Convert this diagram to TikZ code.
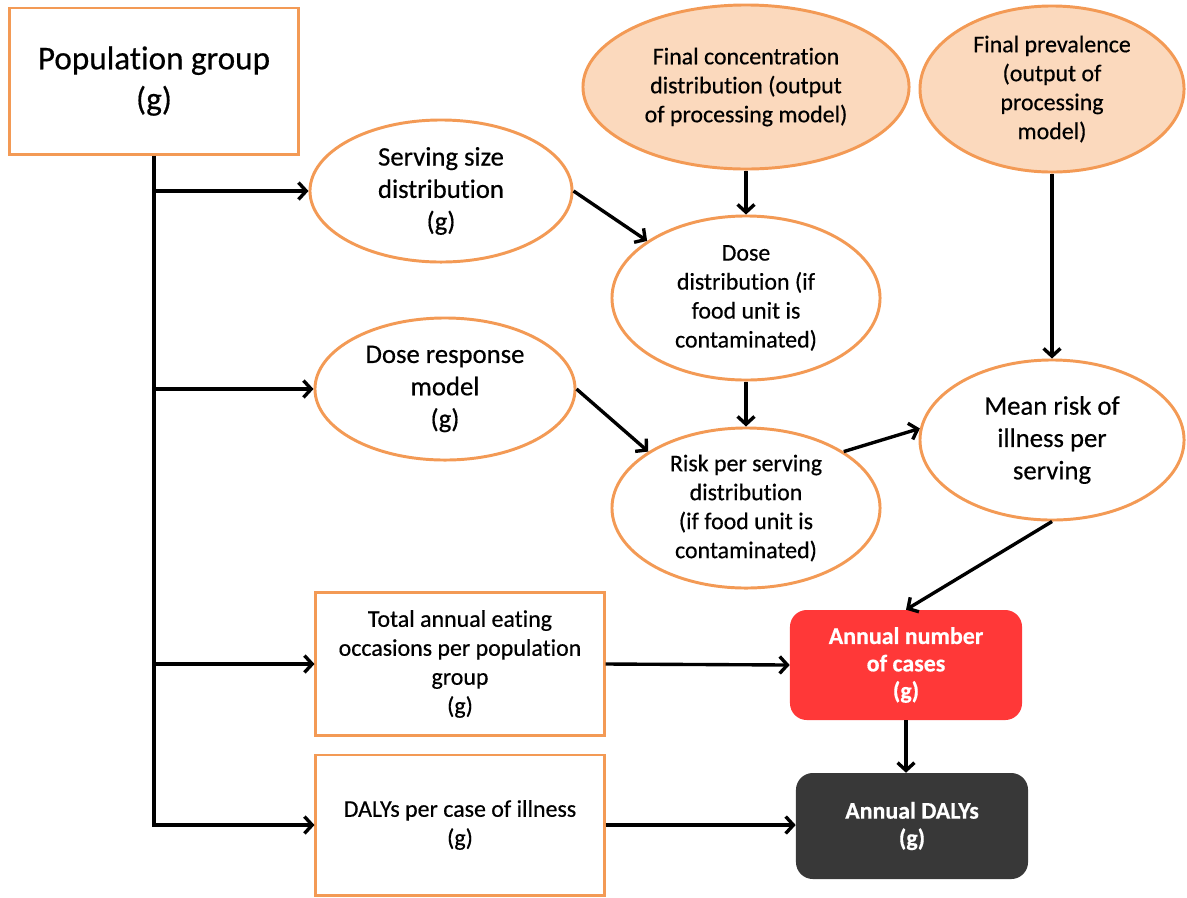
\documentclass[tikz,border=0pt]{standalone}
\usepackage{fontspec}
\setmainfont{Carlito}[Ligatures=NoCommon, FakeBold=0.5]
\usepackage{xcolor}
\usepackage{tikz}
\usetikzlibrary{shapes.geometric, arrows.meta, positioning}

\definecolor{edgeorange}{HTML}{F39A55}
\definecolor{peach}{HTML}{FBD9BD}
\definecolor{casered}{HTML}{FF3838}
\definecolor{dalygrey}{HTML}{383838}

\begin{document}
\begin{tikzpicture}[x=0.025cm, y=-0.025cm]
        \tikzstyle{box} = [rectangle, draw=edgeorange, line width=2.1pt, fill=white, align=center, inner sep=0pt, font=\fontsize{17}{20.6}\selectfont]
        \tikzstyle{blob} = [ellipse, draw=edgeorange, line width=2.1pt, fill=white, align=center, inner sep=0pt, font=\fontsize{17}{20.6}\selectfont]
        \tikzstyle{result} = [rectangle, rounded corners=12pt, draw=none, text=white, align=center, inner sep=0pt, font=\bfseries\fontsize{17}{19.5}\selectfont]
        \tikzstyle{line} = [draw, line width=2.4pt, -{Straight Barb[length=5.5pt, width=12pt, line width=2.4pt]}]

        \useasboundingbox (0,0) rectangle (1187,897);

        % inputs on the left
        \node [box, minimum width=7.2cm, minimum height=3.65cm, font=\fontsize{23.6}{29}\selectfont] (pop) at (154,81) {Population group\\(g)};
        \node [blob, minimum width=6.55cm, minimum height=3.55cm, font=\fontsize{19}{23}\selectfont] (serving) at (441,191) {Serving size\\distribution\\(g)};
        \node [blob, minimum width=6.5cm, minimum height=3.55cm, font=\fontsize{19}{23}\selectfont] (doseresp) at (445,389) {Dose response\\model\\(g)};
        \node [box, minimum width=7.2cm, minimum height=3.575cm] (occasions) at (460,664) {Total annual eating\\occasions per population\\group\\(g)};
        \node [box, minimum width=7.2cm, minimum height=3.5cm] (dalys) at (460,825) {DALYs per case of illness\\(g)};

        % processing model outputs
        \node [blob, fill=peach, minimum width=8.15cm, minimum height=4.1cm] (conc) at (746,87) {Final concentration\\distribution (output\\of processing model)};
        \node [blob, fill=peach, minimum width=6.6cm, minimum height=4.15cm] (prev) at (1052,89) {Final prevalence\\(output of\\processing\\model)};

        % intermediate distributions
        \node [blob, minimum width=6.7cm, minimum height=4.1cm] (dose) at (746,298) {Dose\\distribution (if\\food unit is\\contaminated)};
        \node [blob, minimum width=6.7cm, minimum height=4.0cm] (risk) at (746,508) {Risk per serving\\distribution\\(if food unit is\\contaminated)};
        \node [blob, minimum width=6.6cm, minimum height=4.0cm, font=\fontsize{19}{23}\selectfont] (meanrisk) at (1052,440) {Mean risk of\\illness per\\serving};

        % results
        \node [result, fill=casered, minimum width=5.8cm, minimum height=2.75cm] (cases) at (906,665) {Annual number\\of cases\\(g)};
        \node [result, fill=dalygrey, minimum width=5.8cm, minimum height=2.65cm] (annualdalys) at (912,826) {Annual DALYs\\(g)};

        \path [line] (pop.south) |- (dalys.west);
        \path [line] (pop.south |- serving.west) -- (serving.west);
        \path [line] (pop.south |- doseresp.west) -- (doseresp.west);
        \path [line] (pop.south |- occasions.west) -- (occasions.west);

        \path [line] (serving.east) -- (dose.150);
        \path [line] (conc.south) -- (dose.north);
        \path [line] (dose.south) -- (risk.north);
        \path [line] (doseresp.east) -- (risk.150);
        \path [line] (risk.30) -- (meanrisk.175);
        \path [line] (prev.south) -- (meanrisk.north);
        \path [line] (meanrisk.south) -- (cases.north);
        \path [line] (occasions.east) -- (cases.west);
        \path [line] (cases.south) -- (cases.south |- annualdalys.north);
        \path [line] (dalys.east) -- (dalys.east -| annualdalys.west);
    \end{tikzpicture}
\end{document}
